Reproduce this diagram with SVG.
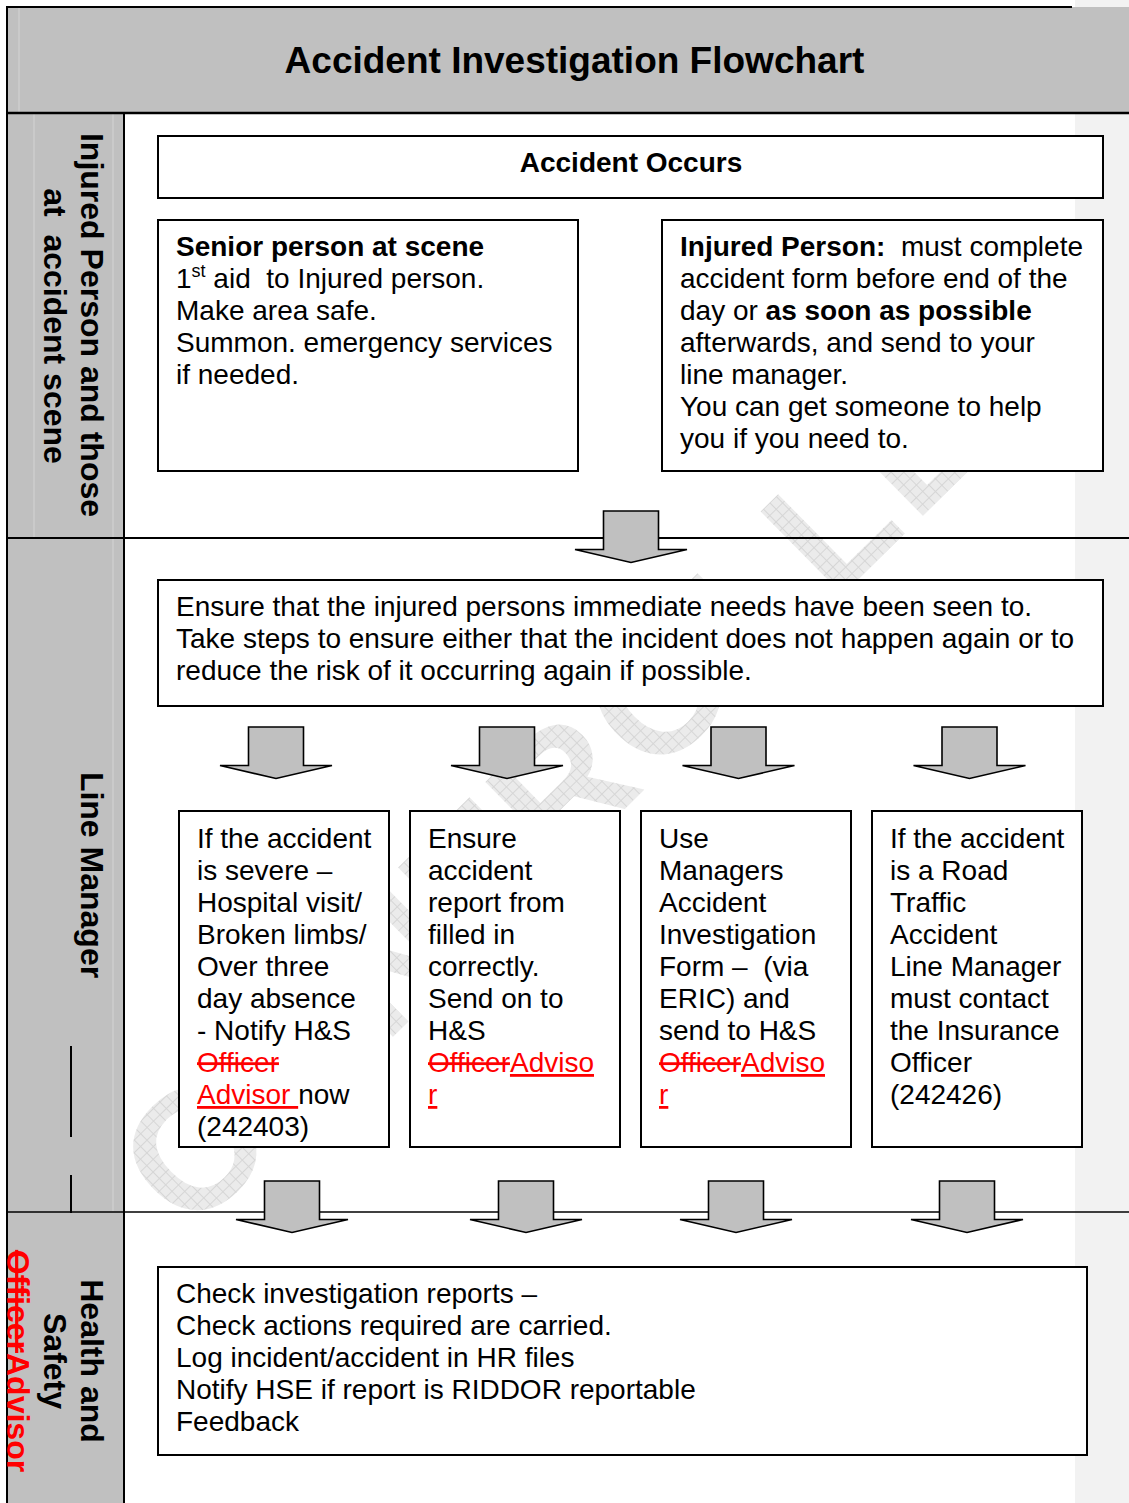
<svg xmlns="http://www.w3.org/2000/svg" width="1129" height="1503" viewBox="0 0 1129 1503">
<style>
.t{font-family:"Liberation Sans",Arial,sans-serif;font-size:28px;fill:#000;white-space:pre}
.b{font-weight:bold}
.ttl{font-family:"Liberation Sans",Arial,sans-serif;font-size:37px;font-weight:bold;fill:#000;text-anchor:middle}
.lane{font-family:"Liberation Sans",Arial,sans-serif;font-size:32px;font-weight:bold;fill:#000;text-anchor:middle;white-space:pre}
.box{fill:#fff;stroke:#000;stroke-width:2}
.arrow{fill:#c0c0c0;stroke:#000;stroke-width:1.6;stroke-linejoin:miter}
.del{fill:#ff0000;text-decoration:line-through}
.ins{fill:#ff0000;text-decoration:underline}
.red{fill:#ff0000}
.rule{stroke:#000;fill:none}
.faint{stroke:#d4d4d4;stroke-width:1;fill:none}
</style>
<defs>
<pattern id="hatch" patternUnits="userSpaceOnUse" width="9" height="9">
<rect width="9" height="9" fill="#ebebeb"/>
<path d="M0 0.5H9M0.5 0V9" stroke="#d6d6d6" stroke-width="1"/>
</pattern>
<path id="arr" d="M-27.5 0H27.5V38.5H56L0 51.5L-56 38.5H-27.5Z"/>
</defs>
<rect x="0" y="0" width="1129" height="1503" fill="#fff"/>
<rect x="1075" y="0" width="54" height="1503" fill="#f2f2f2"/>
<g id="watermark" transform="translate(190,1236) rotate(-44.5)">
<text x="0" y="0" font-family="'Liberation Sans',Arial,sans-serif" font-size="170" font-weight="bold" letter-spacing="9" fill="url(#hatch)">CONTROLLED</text>
</g>
<g id="frame">
<rect x="7" y="113" width="117" height="1390" fill="#c0c0c0"/>
<rect x="7" y="7" width="1122" height="106" fill="#c0c0c0"/>
<line class="faint" x1="19" y1="8" x2="19" y2="112"/>
<line class="faint" x1="34" y1="114" x2="34" y2="537"/>
<line class="faint" x1="113" y1="114" x2="113" y2="1211"/>
<line class="rule" x1="7" y1="7" x2="1072" y2="7" stroke-width="2"/>
<line class="rule" x1="7" y1="113" x2="1129" y2="113" stroke-width="2.5"/>
<line class="rule" x1="7" y1="6" x2="7" y2="1503" stroke-width="2"/>
<line class="rule" x1="124" y1="113" x2="124" y2="1503" stroke-width="2"/>
<line class="rule" x1="7" y1="538" x2="1129" y2="538" stroke-width="2"/>
<line class="rule" x1="7" y1="1212" x2="1129" y2="1212" stroke-width="1.5"/>
<line class="rule" x1="71" y1="1046" x2="71" y2="1137" stroke-width="2"/>
<line class="rule" x1="71" y1="1175" x2="71" y2="1213" stroke-width="2"/>
</g>
<g id="title"><text class="ttl" x="574.5" y="73">Accident Investigation Flowchart</text></g>
<g id="lane-injured">
<text class="lane" transform="translate(81,325) rotate(90)">Injured Person and those</text>
<text class="lane" transform="translate(44,326) rotate(90)">at  accident scene</text>
</g>
<g id="lane-manager"><text class="lane" transform="translate(81,875) rotate(90)">Line Manager</text></g>
<g id="lane-hs">
<text class="lane" transform="translate(81,1361) rotate(90)">Health and</text>
<text class="lane" transform="translate(44,1361) rotate(90)">Safety</text>
<text class="lane" transform="translate(7,1361) rotate(90)"><tspan class="del">Officer</tspan><tspan class="red">Advisor</tspan></text>
</g>
<g id="connectors">
<use href="#arr" class="arrow" x="631" y="511"/>
<use href="#arr" class="arrow" x="276" y="727"/>
<use href="#arr" class="arrow" x="507" y="727"/>
<use href="#arr" class="arrow" x="738.5" y="727"/>
<use href="#arr" class="arrow" x="969.5" y="727"/>
<use href="#arr" class="arrow" x="292" y="1181"/>
<use href="#arr" class="arrow" x="526" y="1181"/>
<use href="#arr" class="arrow" x="736" y="1181"/>
<use href="#arr" class="arrow" x="967" y="1181"/>
</g>
<g id="n-occurs">
<rect class="box" x="158" y="136" width="945" height="62"/>
<text class="t b" x="631" y="172" text-anchor="middle">Accident Occurs</text>
</g>
<g id="n-senior">
<rect class="box" x="158" y="220" width="420" height="251"/>
<text class="t" x="176" y="256"><tspan class="b">Senior person at scene</tspan></text>
<text class="t" x="176" y="288">1<tspan dy="-11" font-size="18">st</tspan><tspan dy="11"> aid  to Injured person.</tspan></text>
<text class="t" x="176" y="320">Make area safe.</text>
<text class="t" x="176" y="352">Summon. emergency services</text>
<text class="t" x="176" y="384">if needed.</text>
</g>
<g id="n-injured">
<rect class="box" x="662" y="220" width="441" height="251"/>
<text class="t" x="680" y="256"><tspan class="b">Injured Person:</tspan>  must complete</text>
<text class="t" x="680" y="288">accident form before end of the</text>
<text class="t" x="680" y="320">day or <tspan class="b">as soon as possible</tspan></text>
<text class="t" x="680" y="352">afterwards, and send to your</text>
<text class="t" x="680" y="384">line manager.</text>
<text class="t" x="680" y="416">You can get someone to help</text>
<text class="t" x="680" y="448">you if you need to.</text>
</g>
<g id="n-ensure">
<rect class="box" x="158" y="580" width="945" height="126"/>
<text class="t" x="176" y="616">Ensure that the injured persons immediate needs have been seen to.</text>
<text class="t" x="176" y="648">Take steps to ensure either that the incident does not happen again or to</text>
<text class="t" x="176" y="680">reduce the risk of it occurring again if possible.</text>
</g>
<g id="n-severe">
<rect class="box" x="179" y="811" width="210" height="336"/>
<text class="t" x="197" y="848">If the accident</text>
<text class="t" x="197" y="880">is severe –</text>
<text class="t" x="197" y="912">Hospital visit/</text>
<text class="t" x="197" y="944">Broken limbs/</text>
<text class="t" x="197" y="976">Over three</text>
<text class="t" x="197" y="1008">day absence</text>
<text class="t" x="197" y="1040">- Notify H&amp;S</text>
<text class="t" x="197" y="1072"><tspan class="del">Officer</tspan></text>
<text class="t" x="197" y="1104"><tspan class="ins">Advisor </tspan>now</text>
<text class="t" x="197" y="1136">(242403)</text>
</g>
<g id="n-report">
<rect class="box" x="410" y="811" width="210" height="336"/>
<text class="t" x="428" y="848">Ensure</text>
<text class="t" x="428" y="880">accident</text>
<text class="t" x="428" y="912">report from</text>
<text class="t" x="428" y="944">filled in</text>
<text class="t" x="428" y="976">correctly.</text>
<text class="t" x="428" y="1008">Send on to</text>
<text class="t" x="428" y="1040">H&amp;S</text>
<text class="t" x="428" y="1072"><tspan class="del">Officer</tspan><tspan class="ins">Adviso</tspan></text>
<text class="t" x="428" y="1104"><tspan class="ins">r</tspan></text>
</g>
<g id="n-form">
<rect class="box" x="641" y="811" width="210" height="336"/>
<text class="t" x="659" y="848">Use</text>
<text class="t" x="659" y="880">Managers</text>
<text class="t" x="659" y="912">Accident</text>
<text class="t" x="659" y="944">Investigation</text>
<text class="t" x="659" y="976">Form –  (via</text>
<text class="t" x="659" y="1008">ERIC) and</text>
<text class="t" x="659" y="1040">send to H&amp;S</text>
<text class="t" x="659" y="1072"><tspan class="del">Officer</tspan><tspan class="ins">Adviso</tspan></text>
<text class="t" x="659" y="1104"><tspan class="ins">r</tspan></text>
</g>
<g id="n-road">
<rect class="box" x="872" y="811" width="210" height="336"/>
<text class="t" x="890" y="848">If the accident</text>
<text class="t" x="890" y="880">is a Road</text>
<text class="t" x="890" y="912">Traffic</text>
<text class="t" x="890" y="944">Accident</text>
<text class="t" x="890" y="976">Line Manager</text>
<text class="t" x="890" y="1008">must contact</text>
<text class="t" x="890" y="1040">the Insurance</text>
<text class="t" x="890" y="1072">Officer</text>
<text class="t" x="890" y="1104">(242426)</text>
</g>
<g id="n-check">
<rect class="box" x="158" y="1267" width="929" height="188"/>
<text class="t" x="176" y="1303">Check investigation reports –</text>
<text class="t" x="176" y="1335">Check actions required are carried.</text>
<text class="t" x="176" y="1367">Log incident/accident in HR files</text>
<text class="t" x="176" y="1399">Notify HSE if report is RIDDOR reportable</text>
<text class="t" x="176" y="1431">Feedback</text>
</g>
</svg>
